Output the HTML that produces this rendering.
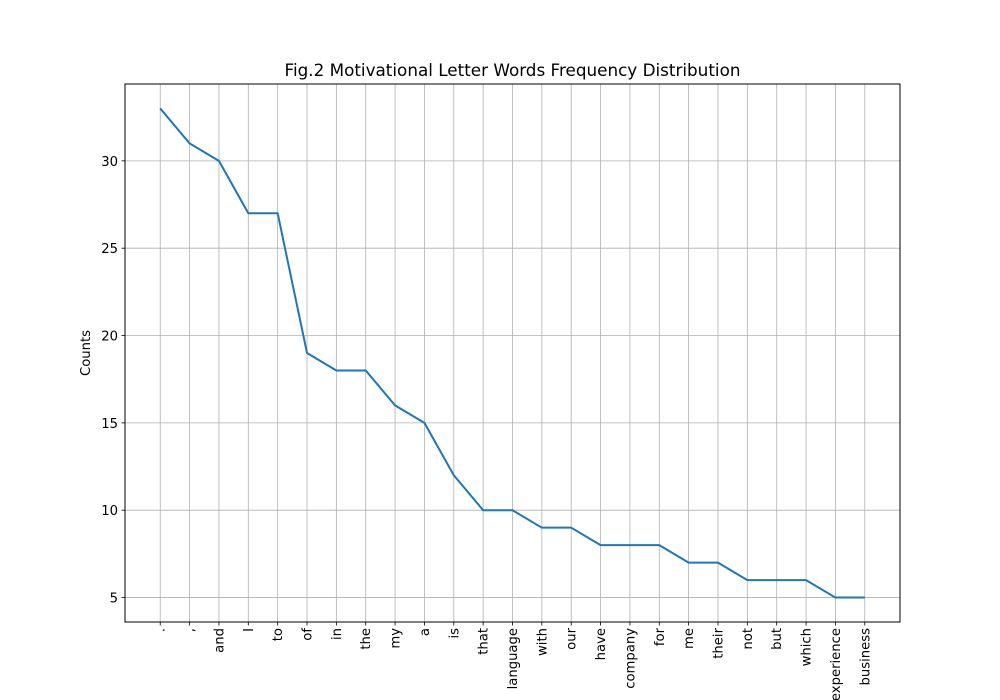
<!DOCTYPE html>
<html><head><meta charset="utf-8"><style>
body{margin:0;background:#fff;}
svg{display:block;font-family:"DejaVu Sans","Liberation Sans",sans-serif;}
</style></head><body>
<svg id="chart" width="1000" height="700" viewBox="0 0 1000 700">
<rect width="1000" height="700" fill="#fff"/>
<g id="grid"></g>
<g id="ticks"></g>
<path id="line" fill="none" stroke="#1f77b4" stroke-width="2" stroke-linejoin="round"/>
<rect x="125" y="84" width="775" height="538" fill="none" stroke="#000" stroke-width="1"/>
<text x="512.5" y="76" text-anchor="middle" font-size="16.8">Fig.2 Motivational Letter Words Frequency Distribution</text>
<text transform="translate(90,353) rotate(-90)" text-anchor="middle" font-size="13.2">Counts</text>
</svg>
<script>
const categories=[".",",","and","I","to","of","in","the","my","a","is","that","language","with","our","have","company","for","me","their","not","but","which","experience","business"];
const counts=[33,31,30,27,27,19,18,18,16,15,12,10,10,9,9,8,8,8,7,7,6,6,6,5,5];
const yTicks=[5,10,15,20,25,30];
const NS="http://www.w3.org/2000/svg";
const L=125,R=900,T=84,B=622;
const n=categories.length;
const vmin=Math.min(...counts),vmax=Math.max(...counts);
const ymn=vmin-(vmax-vmin)*0.05,ymx=vmax+(vmax-vmin)*0.05;
const xmn=-(n-1)*0.05,xmx=(n-1)*1.05;
const xs=i=>L+(i-xmn)/(xmx-xmn)*(R-L);
const ys=v=>B-(v-ymn)/(ymx-ymn)*(B-T);
const grid=document.getElementById('grid'),ticks=document.getElementById('ticks');
function mk(tag,attrs,parent){const e=document.createElementNS(NS,tag);for(const k in attrs)e.setAttribute(k,attrs[k]);parent.appendChild(e);return e;}
categories.forEach((c,i)=>{
  const x=xs(i);
  const g=mk('line',{x1:x,x2:x,y1:T,y2:B,stroke:'#b0b0b0','stroke-width':0.8},grid);
  
  
  const tk=mk('line',{x1:x,x2:x,y1:B,y2:B+3.5,stroke:'#000','stroke-width':0.8},ticks);
  
  
  const t=mk('text',{transform:`translate(${x+4.5},${B+6}) rotate(-90)`,'text-anchor':'end','font-size':13.2},ticks);
  t.textContent=c;
  
  
});
yTicks.forEach(v=>{
  const y=ys(v);
  const g=mk('line',{x1:L,x2:R,y1:y,y2:y,stroke:'#b0b0b0','stroke-width':0.8},grid);
  
  
  const tk=mk('line',{x1:L-3.5,x2:L,y1:y,y2:y,stroke:'#000','stroke-width':0.8},ticks);
  
  
  const t=mk('text',{x:L-7,y:y+5,'text-anchor':'end','font-size':13.2},ticks);
  t.textContent=v;
  
  
});
document.getElementById('line').setAttribute('d',counts.map((v,i)=>(i?'L':'M')+xs(i).toFixed(2)+','+ys(v).toFixed(2)).join(''));
</script>
</body></html>
